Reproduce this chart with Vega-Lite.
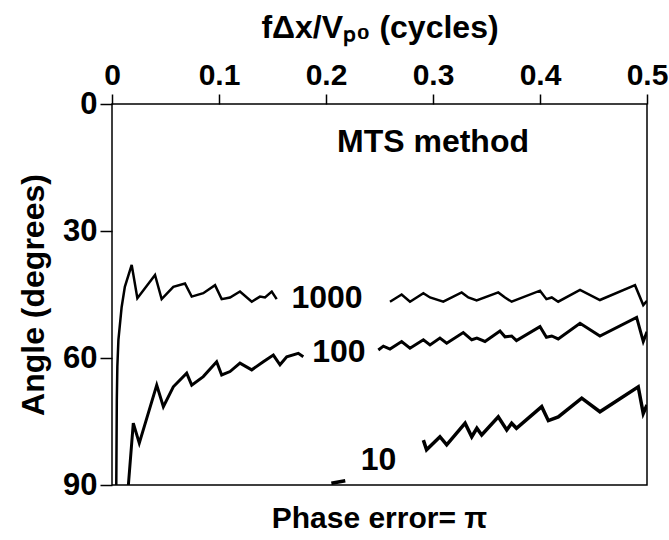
{
  "$schema": "https://vega.github.io/schema/vega-lite/v6.json",
  "autosize": {"type": "none"},
  "width": 535,
  "height": 381,
  "padding": {"left": 112, "top": 104, "right": 22, "bottom": 55},
  "background": "white",
  "config": {
    "font": "Liberation Sans",
    "view": {"stroke": "black", "strokeWidth": 1.5},
    "axis": {"labelFont": "Liberation Sans", "titleFont": "Liberation Sans", "labelFontWeight": "bold", "titleFontWeight": "bold", "labelColor": "black", "titleColor": "black", "tickColor": "black", "domain": false, "grid": false, "labelFlush": false, "labelOverlap": false}
  },
  "title": {"text": "Phase error= π", "orient": "bottom", "anchor": "middle", "fontSize": 30, "fontWeight": "bold", "font": "Liberation Sans", "color": "black", "offset": 4},
  "datasets": {
    "curves": [
      {"s": "1000", "g": "1000a", "x": 0.004, "a": 90},
      {"s": "1000", "g": "1000a", "x": 0.0045, "a": 70},
      {"s": "1000", "g": "1000a", "x": 0.005, "a": 62},
      {"s": "1000", "g": "1000a", "x": 0.006, "a": 55.7},
      {"s": "1000", "g": "1000a", "x": 0.009, "a": 48},
      {"s": "1000", "g": "1000a", "x": 0.012, "a": 43.2},
      {"s": "1000", "g": "1000a", "x": 0.0184, "a": 38.0},
      {"s": "1000", "g": "1000a", "x": 0.0237, "a": 45.9},
      {"s": "1000", "g": "1000a", "x": 0.0402, "a": 40.4},
      {"s": "1000", "g": "1000a", "x": 0.0464, "a": 46.1},
      {"s": "1000", "g": "1000a", "x": 0.0573, "a": 43.2},
      {"s": "1000", "g": "1000a", "x": 0.0682, "a": 42.4},
      {"s": "1000", "g": "1000a", "x": 0.0745, "a": 45.5},
      {"s": "1000", "g": "1000a", "x": 0.0853, "a": 44.7},
      {"s": "1000", "g": "1000a", "x": 0.0963, "a": 42.8},
      {"s": "1000", "g": "1000a", "x": 0.1025, "a": 46.1},
      {"s": "1000", "g": "1000a", "x": 0.1103, "a": 45.7},
      {"s": "1000", "g": "1000a", "x": 0.1196, "a": 44.3},
      {"s": "1000", "g": "1000a", "x": 0.1306, "a": 46.7},
      {"s": "1000", "g": "1000a", "x": 0.1383, "a": 45.5},
      {"s": "1000", "g": "1000a", "x": 0.143, "a": 45.7},
      {"s": "1000", "g": "1000a", "x": 0.1493, "a": 44.3},
      {"s": "1000", "g": "1000a", "x": 0.1539, "a": 46.1},
      {"s": "1000", "g": "1000b", "x": 0.2598, "a": 46.7},
      {"s": "1000", "g": "1000b", "x": 0.2707, "a": 45.0},
      {"s": "1000", "g": "1000b", "x": 0.2785, "a": 46.7},
      {"s": "1000", "g": "1000b", "x": 0.291, "a": 44.7},
      {"s": "1000", "g": "1000b", "x": 0.2972, "a": 45.7},
      {"s": "1000", "g": "1000b", "x": 0.3096, "a": 46.7},
      {"s": "1000", "g": "1000b", "x": 0.3268, "a": 44.5},
      {"s": "1000", "g": "1000b", "x": 0.333, "a": 45.7},
      {"s": "1000", "g": "1000b", "x": 0.3408, "a": 46.4},
      {"s": "1000", "g": "1000b", "x": 0.361, "a": 44.5},
      {"s": "1000", "g": "1000b", "x": 0.3673, "a": 45.7},
      {"s": "1000", "g": "1000b", "x": 0.3735, "a": 46.7},
      {"s": "1000", "g": "1000b", "x": 0.4, "a": 44.1},
      {"s": "1000", "g": "1000b", "x": 0.406, "a": 46.1},
      {"s": "1000", "g": "1000b", "x": 0.411, "a": 45.7},
      {"s": "1000", "g": "1000b", "x": 0.417, "a": 46.7},
      {"s": "1000", "g": "1000b", "x": 0.4374, "a": 43.9},
      {"s": "1000", "g": "1000b", "x": 0.456, "a": 46.3},
      {"s": "1000", "g": "1000b", "x": 0.4888, "a": 42.8},
      {"s": "1000", "g": "1000b", "x": 0.4965, "a": 47.5},
      {"s": "1000", "g": "1000b", "x": 0.5, "a": 46.5},
      {"s": "100", "g": "100a", "x": 0.0153, "a": 90},
      {"s": "100", "g": "100a", "x": 0.0199, "a": 75.4},
      {"s": "100", "g": "100a", "x": 0.0255, "a": 80.1},
      {"s": "100", "g": "100a", "x": 0.0418, "a": 66.4},
      {"s": "100", "g": "100a", "x": 0.048, "a": 71.5},
      {"s": "100", "g": "100a", "x": 0.0573, "a": 66.8},
      {"s": "100", "g": "100a", "x": 0.0698, "a": 63.6},
      {"s": "100", "g": "100a", "x": 0.0745, "a": 66.4},
      {"s": "100", "g": "100a", "x": 0.0853, "a": 64.4},
      {"s": "100", "g": "100a", "x": 0.0978, "a": 60.9},
      {"s": "100", "g": "100a", "x": 0.1025, "a": 64.0},
      {"s": "100", "g": "100a", "x": 0.1103, "a": 63.2},
      {"s": "100", "g": "100a", "x": 0.1196, "a": 61.2},
      {"s": "100", "g": "100a", "x": 0.1306, "a": 62.8},
      {"s": "100", "g": "100a", "x": 0.1414, "a": 60.9},
      {"s": "100", "g": "100a", "x": 0.1508, "a": 59.3},
      {"s": "100", "g": "100a", "x": 0.157, "a": 61.6},
      {"s": "100", "g": "100a", "x": 0.1633, "a": 59.7},
      {"s": "100", "g": "100a", "x": 0.1741, "a": 58.9},
      {"s": "100", "g": "100a", "x": 0.1788, "a": 59.7},
      {"s": "100", "g": "100b", "x": 0.2489, "a": 58.1},
      {"s": "100", "g": "100b", "x": 0.2536, "a": 57.2},
      {"s": "100", "g": "100b", "x": 0.2598, "a": 57.9},
      {"s": "100", "g": "100b", "x": 0.2707, "a": 56.1},
      {"s": "100", "g": "100b", "x": 0.2785, "a": 57.7},
      {"s": "100", "g": "100b", "x": 0.291, "a": 55.7},
      {"s": "100", "g": "100b", "x": 0.2972, "a": 56.9},
      {"s": "100", "g": "100b", "x": 0.3065, "a": 55.3},
      {"s": "100", "g": "100b", "x": 0.3128, "a": 56.5},
      {"s": "100", "g": "100b", "x": 0.3283, "a": 54.0},
      {"s": "100", "g": "100b", "x": 0.3362, "a": 55.7},
      {"s": "100", "g": "100b", "x": 0.341, "a": 55.3},
      {"s": "100", "g": "100b", "x": 0.3486, "a": 56.1},
      {"s": "100", "g": "100b", "x": 0.3626, "a": 53.6},
      {"s": "100", "g": "100b", "x": 0.3673, "a": 55.0},
      {"s": "100", "g": "100b", "x": 0.3735, "a": 54.8},
      {"s": "100", "g": "100b", "x": 0.378, "a": 55.9},
      {"s": "100", "g": "100b", "x": 0.4, "a": 52.6},
      {"s": "100", "g": "100b", "x": 0.406, "a": 55.1},
      {"s": "100", "g": "100b", "x": 0.411, "a": 54.8},
      {"s": "100", "g": "100b", "x": 0.417, "a": 55.5},
      {"s": "100", "g": "100b", "x": 0.4374, "a": 51.8},
      {"s": "100", "g": "100b", "x": 0.456, "a": 54.8},
      {"s": "100", "g": "100b", "x": 0.4903, "a": 50.4},
      {"s": "100", "g": "100b", "x": 0.4965, "a": 56.1},
      {"s": "100", "g": "100b", "x": 0.5, "a": 53.8},
      {"s": "10", "g": "10a", "x": 0.291, "a": 79.4},
      {"s": "10", "g": "10a", "x": 0.294, "a": 81.7},
      {"s": "10", "g": "10a", "x": 0.3065, "a": 78.6},
      {"s": "10", "g": "10a", "x": 0.3128, "a": 80.5},
      {"s": "10", "g": "10a", "x": 0.33, "a": 75.4},
      {"s": "10", "g": "10a", "x": 0.3362, "a": 78.6},
      {"s": "10", "g": "10a", "x": 0.341, "a": 76.6},
      {"s": "10", "g": "10a", "x": 0.3455, "a": 78.2},
      {"s": "10", "g": "10a", "x": 0.361, "a": 73.9},
      {"s": "10", "g": "10a", "x": 0.3689, "a": 77.0},
      {"s": "10", "g": "10a", "x": 0.3735, "a": 75.4},
      {"s": "10", "g": "10a", "x": 0.378, "a": 76.6},
      {"s": "10", "g": "10a", "x": 0.4016, "a": 71.5},
      {"s": "10", "g": "10a", "x": 0.4078, "a": 74.8},
      {"s": "10", "g": "10a", "x": 0.4171, "a": 73.9},
      {"s": "10", "g": "10a", "x": 0.439, "a": 69.5},
      {"s": "10", "g": "10a", "x": 0.456, "a": 72.7},
      {"s": "10", "g": "10a", "x": 0.4918, "a": 66.8},
      {"s": "10", "g": "10a", "x": 0.4965, "a": 73.1},
      {"s": "10", "g": "10a", "x": 0.5, "a": 71.1},
      {"s": "10", "g": "10b", "x": 0.205, "a": 89.6},
      {"s": "10", "g": "10b", "x": 0.218, "a": 89.0}
    ],
    "labels": [
      {"t": "1000", "x": 0.201, "a": 45.8},
      {"t": "100", "x": 0.212, "a": 58.6},
      {"t": "10", "x": 0.249, "a": 84.1},
      {"t": "MTS method", "x": 0.3, "a": 9}
    ]
  },
  "layer": [
    {
      "data": {"name": "curves"},
      "mark": {"type": "line", "color": "black", "strokeJoin": "miter", "clip": true},
      "encoding": {
        "x": {"field": "x", "type": "quantitative", "scale": {"domain": [0, 0.5], "nice": false, "zero": false},
          "axis": {"orient": "top", "values": [0, 0.1, 0.2, 0.3, 0.4, 0.5], "format": "~g", "labelFontSize": 30, "tickSize": 10, "tickWidth": 1.5, "labelPadding": 4, "title": "fΔx/Vₚ₀ (cycles)", "titleFontSize": 32, "titlePadding": 16}},
        "y": {"field": "a", "type": "quantitative", "scale": {"domain": [0, 90], "reverse": true, "nice": false, "zero": false},
          "axis": {"values": [0, 30, 60, 90], "labelFontSize": 31, "tickSize": 12, "tickWidth": 1.5, "labelPadding": 3, "title": "Angle (degrees)", "titleFontSize": 32, "titlePadding": 12}},
        "detail": {"field": "g", "type": "nominal"},
        "strokeWidth": {"field": "s", "type": "nominal", "scale": {"domain": ["1000", "100", "10"], "range": [2.5, 3.5, 5]}, "legend": null},
        "order": {"field": "x", "type": "quantitative"}
      }
    },
    {
      "data": {"name": "labels"},
      "mark": {"type": "text", "fontSize": 32, "fontWeight": "bold", "font": "Liberation Sans", "color": "black", "align": "center", "baseline": "middle"},
      "encoding": {
        "x": {"field": "x", "type": "quantitative"},
        "y": {"field": "a", "type": "quantitative"},
        "text": {"field": "t", "type": "nominal"}
      }
    }
  ]
}
